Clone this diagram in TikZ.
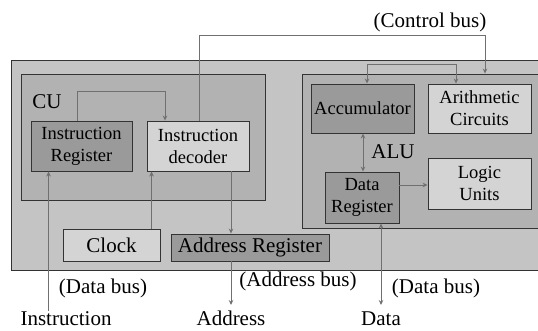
\documentclass[tikz,border=0pt]{standalone}
\usepackage{fontspec}
\setmainfont{Liberation Serif}
\usetikzlibrary{arrows.meta}
\definecolor{outerfill}{HTML}{C4C4C4}
\definecolor{unitfill}{HTML}{B2B2B2}
\definecolor{darkfill}{HTML}{9A9A9A}
\definecolor{lightfill}{HTML}{D4D4D4}
\definecolor{edge}{HTML}{333333}
\definecolor{wire}{HTML}{707070}
\tikzset{
  unitbox/.style={draw=edge, line width=0.9pt, inner sep=0pt},
  regbox/.style={draw=edge, line width=0.9pt, inner sep=0pt, align=center,
    font=\fontsize{18.5}{22}\selectfont},
  bigbox/.style={draw=edge, line width=0.9pt, inner sep=0pt,
    font=\fontsize{21}{24}\selectfont},
  lbl/.style={inner sep=0pt, font=\fontsize{21}{24}\selectfont},
  arr/.style={draw=wire, line width=0.9pt, -{Stealth[length=5pt,width=4.5pt]}},
  darr/.style={draw=wire, line width=0.9pt, {Stealth[length=5pt,width=4.5pt]}-{Stealth[length=5pt,width=4.5pt]}},
}
\begin{document}
\begin{tikzpicture}[x=1pt,y=-1pt]
\useasboundingbox (0,0) rectangle (538,331);
\begin{scope}
\clip (0,0) rectangle (538,331);
% processor outline and the two units
\node[unitbox, fill=outerfill, minimum width=534pt, minimum height=210pt] (cpu) at (278,165) {};
\node[unitbox, fill=unitfill, minimum width=244pt, minimum height=126pt] (cu) at (143,137) {};
\node[unitbox, fill=unitfill, minimum width=243pt, minimum height=154pt] (alu) at (423.5,151) {};
\end{scope}

\node[lbl] (culbl) at (47,102) {CU};
\node[lbl] (alulbl) at (393,152) {ALU};

% registers and circuits
\node[regbox, fill=darkfill, minimum width=101pt, minimum height=50pt] (ir) at (81.5,146) {Instruction\\Register};
\node[regbox, fill=lightfill, minimum width=102pt, minimum height=50pt] (dec) at (198,146) {Instruction\\decoder};
\node[regbox, fill=darkfill, minimum width=103pt, minimum height=49pt] (acc) at (362.5,108.5) {Accumulator};
\node[regbox, fill=lightfill, minimum width=103pt, minimum height=49pt] (arith) at (479.5,108.5) {Arithmetic\\Circuits};
\node[regbox, fill=darkfill, minimum width=74pt, minimum height=51pt] (dr) at (362,197.5) {Data\\Register};
\node[regbox, fill=lightfill, minimum width=103pt, minimum height=51pt] (logic) at (479.5,183.5) {Logic\\Units};
\node[bigbox, fill=lightfill, minimum width=97pt, minimum height=32pt] (clock) at (111.5,245) {Clock};
\node[bigbox, fill=darkfill, minimum width=158pt, minimum height=27pt] (addr) at (250,247.5) {Address Register};

% bus labels and external signals
\node[lbl] (ctl) at (430,22) {(Control bus)};
\node[lbl] (dbusl) at (103,288) {(Data bus)};
\node[lbl] (abus) at (298,281) {(Address bus)};
\node[lbl] (dbusr) at (436,288) {(Data bus)};
\node[lbl, anchor=base] (insttxt) at (66,325) {Instruction};
\node[lbl, anchor=base] (addrtxt) at (231,325) {Address};
\node[lbl, anchor=base] (datatxt) at (381,325) {Data};

% control unit wiring
\draw[arr] ([xshift=-4.5pt]ir.north) -- ++(0,-29) -| ([xshift=-33pt]dec.north);
\draw[arr] ([xshift=1pt]dec.north) |- (485,35) -- (485,0 |- alu.north);
\coordinate (ck) at ([xshift=5pt]dec.south west);
\draw[arr] (ck |- clock.north) -- (ck);
\coordinate (da) at ([xshift=33pt]dec.south);
\draw[arr] (da) -- (da |- addr.north);
\draw[arr] (da |- addr.south) -- (da |- 0,305);
\coordinate (ii) at ([xshift=18pt]ir.south west);
\draw[arr] (ii |- 0,311) -- (ii);

% ALU wiring
\draw[darr] ([xshift=4.5pt]acc.north) -- ++(0,-19) -| ([xshift=-23.5pt]arith.north);
\draw[darr] ([xshift=0.5pt]acc.south) -- ([xshift=0.5pt]acc.south |- dr.north);
\draw[arr] ([yshift=12.5pt]dr.east) -- ([yshift=12.5pt]dr.east -| logic.west);
\coordinate (dd) at ([xshift=19pt]dr.south);
\draw[darr] (dd) -- (dd |- 0,305);
\end{tikzpicture}
\end{document}
